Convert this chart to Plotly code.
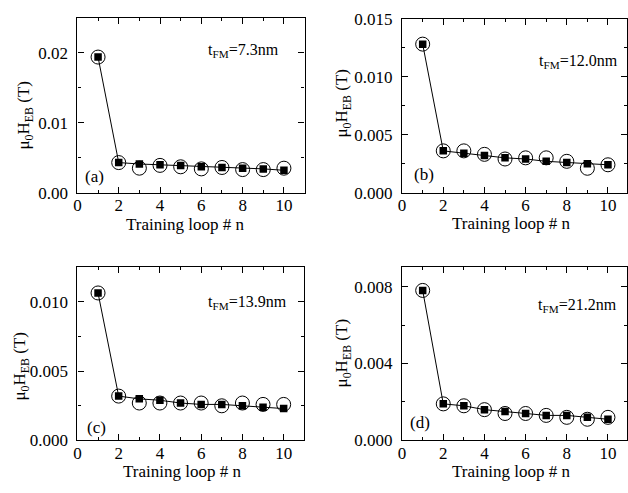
import plotly.graph_objects as go

W, H = 628, 493

loops = [1, 2, 3, 4, 5, 6, 7, 8, 9, 10]

# exchange-bias field per training loop (T): filled squares and open circles
a_sq = [0.0194, 0.0043, 0.0041, 0.0040, 0.0039, 0.0037, 0.0036, 0.0035, 0.0034, 0.0032]
a_ci = [0.0194, 0.0043, 0.0035, 0.0039, 0.0037, 0.0034, 0.0036, 0.0033, 0.0033, 0.0035]
b_sq = [0.0128, 0.0036, 0.0034, 0.0032, 0.0030, 0.0029, 0.0027, 0.0026, 0.0025, 0.0024]
b_ci = [0.0128, 0.0036, 0.0036, 0.0033, 0.0029, 0.0030, 0.0030, 0.0027, 0.0021, 0.0024]
c_sq = [0.01065, 0.0032, 0.0030, 0.0029, 0.0027, 0.0026, 0.0026, 0.0025, 0.0024, 0.0023]
c_ci = [0.01065, 0.0032, 0.0027, 0.0027, 0.0027, 0.0027, 0.0025, 0.0027, 0.0026, 0.0026]
d_sq = [0.0078, 0.0019, 0.0018, 0.0016, 0.0015, 0.0014, 0.0013, 0.0013, 0.0012, 0.0011]
d_ci = [0.0078, 0.0019, 0.0018, 0.0016, 0.0014, 0.0014, 0.0013, 0.0012, 0.0011, 0.0012]

thickness = ["7.3nm", "12.0nm", "13.9nm", "21.2nm"]
letters = ["(a)", "(b)", "(c)", "(d)"]

FONT = "Liberation Serif, Times New Roman, serif"


def px(x):
    return x / W


def py(y):
    return 1 - y / H


# panel boxes in pixels: left, right, top, bottom, x max, y max, y dtick, tick format, minor dtick
panels = [
    dict(sq=a_sq, ci=a_ci, l=74, r=303, t=9.3, b=191, xmax=11, ymax=0.025, dt=0.01, fmt=".2f", mdt=0.005),
    dict(sq=b_sq, ci=b_ci, l=401.3, r=628, t=10, b=191, xmax=(628 - 401.3) / 20.75, ymax=0.015, dt=0.005, fmt=".3f", mdt=0.0025),
    dict(sq=c_sq, ci=c_ci, l=74, r=302.7, t=268.7, b=448.7, xmax=11, ymax=0.0125, dt=0.005, fmt=".3f", mdt=0.0025),
    dict(sq=d_sq, ci=d_ci, l=401.3, r=628, t=268.7, b=448.7, xmax=(628 - 401.3) / 20.75, ymax=0.009, dt=0.004, fmt=".3f", mdt=0.002),
]

# label positions in pixels
ytitle_pos = [(21, 110), (342, 98), (17, 371), (342, 358)]
xtitle_pos = [(182, 224), (511, 223), (179, 481), (511, 481)]
tfm_pos = [(204, 43), (537, 55), (204, 305), (536, 308)]
letter_pos = [(80, 174), (411, 172), (82, 435), (407, 430)]

fig = go.Figure()
annotations = []

for i, p in enumerate(panels):
    k = "" if i == 0 else str(i + 1)
    xa, ya = "x" + k, "y" + k
    fig.add_trace(go.Scatter(
        x=loops, y=p["ci"], xaxis=xa, yaxis=ya, mode="markers",
        marker=dict(symbol="circle-open", size=14, color="black", line=dict(width=1, color="black")),
        showlegend=False, hoverinfo="x+y"))
    fig.add_trace(go.Scatter(
        x=loops, y=p["sq"], xaxis=xa, yaxis=ya, mode="lines+markers",
        line=dict(color="black", width=1),
        marker=dict(symbol="square", size=7.5, color="black"),
        showlegend=False, hoverinfo="x+y"))

    axis_common = dict(
        ticks="inside", showline=True, linecolor="black", linewidth=1.2,
        mirror="ticks", tickcolor="black", tickwidth=1, ticklen=6,
        showgrid=False, zeroline=False,
        tickfont=dict(family=FONT, size=17, color="black"),
    )
    fig.layout["xaxis" + k] = dict(
        axis_common, domain=[px(p["l"]), px(p["r"])], range=[0, p["xmax"]],
        tick0=0, dtick=2, anchor=ya, ticklabelstandoff=-3,
        minor=dict(ticks="inside", dtick=1, ticklen=3, tickcolor="black", showgrid=False),
    )
    fig.layout["yaxis" + k] = dict(
        axis_common, domain=[py(p["b"]), py(p["t"])], range=[0, p["ymax"]],
        tick0=0, dtick=p["dt"], tickformat=p["fmt"], anchor=xa, ticklabelstandoff=5,
        minor=dict(ticks="inside", dtick=p["mdt"], ticklen=3, tickcolor="black", showgrid=False),
    )

    x0, y0 = ytitle_pos[i]
    annotations.append(dict(
        x=px(x0), y=py(y0), xref="paper", yref="paper", showarrow=False,
        text="μ<sub>0</sub>H<sub>EB</sub> (T)", textangle=-90,
        font=dict(family=FONT, size=17, color="black"), xanchor="center", yanchor="middle"))
    x0, y0 = xtitle_pos[i]
    annotations.append(dict(
        x=px(x0), y=py(y0), xref="paper", yref="paper", showarrow=False,
        text="Training loop # n",
        font=dict(family=FONT, size=17, color="black"), xanchor="center", yanchor="middle"))
    x0, y0 = tfm_pos[i]
    annotations.append(dict(
        x=px(x0), y=py(y0), xref="paper", yref="paper", showarrow=False,
        text="t<sub>FM</sub>=" + thickness[i],
        font=dict(family=FONT, size=16, color="black"), xanchor="left", yanchor="middle"))
    x0, y0 = letter_pos[i]
    annotations.append(dict(
        x=px(x0), y=py(y0), xref="paper", yref="paper", showarrow=False,
        text=letters[i],
        font=dict(family=FONT, size=17, color="black"), xanchor="left", yanchor="middle"))

fig.update_layout(
    width=W, height=H,
    margin=dict(l=0, r=0, t=0, b=0),
    paper_bgcolor="white", plot_bgcolor="white",
    font=dict(family=FONT, color="black"),
    annotations=annotations,
)

fig.write_html("out.html")
